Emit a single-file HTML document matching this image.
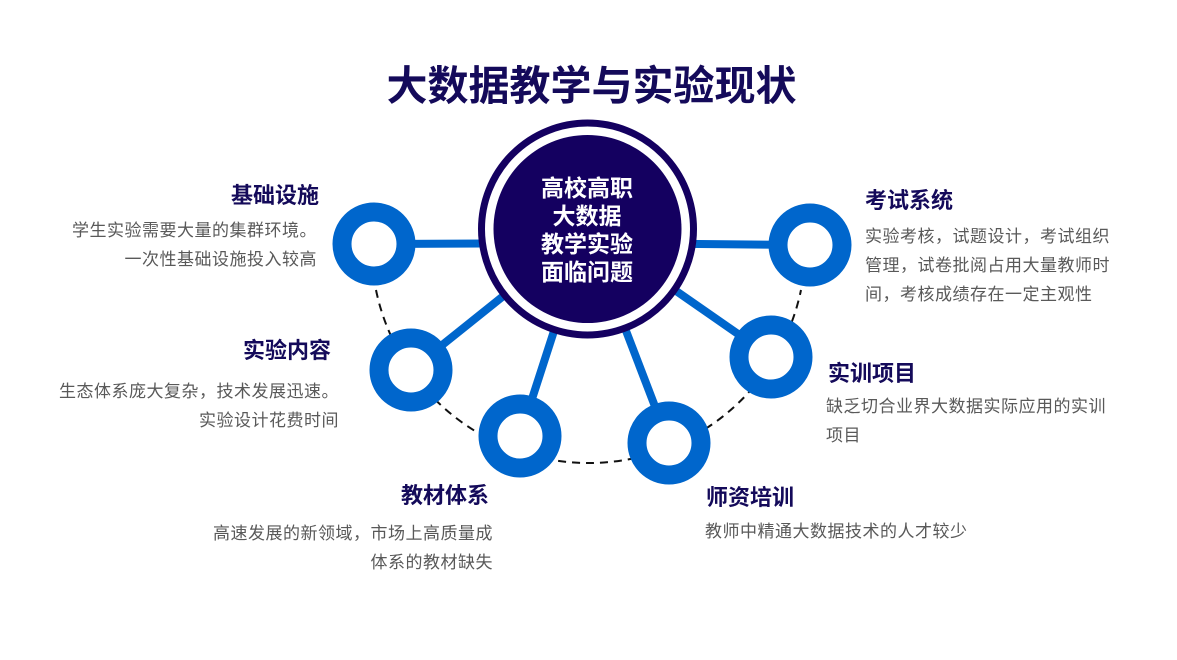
<!DOCTYPE html>
<html><head><meta charset="utf-8"><style>
body{margin:0;width:1177px;height:660px;background:#fff;position:relative;overflow:hidden;font-family:"Liberation Sans","Noto Sans CJK SC",sans-serif}
.t{position:absolute;white-space:nowrap}
.h{font-weight:bold;font-size:22px;color:#140a5a}
.d{font-size:17px;letter-spacing:0.5px;color:#595959;line-height:29px}
</style></head><body>
<svg width="1177" height="660" style="position:absolute;left:0;top:0">
<path d="M376 290 A217 217 0 0 0 801 290" fill="none" stroke="#111" stroke-width="2" stroke-dasharray="8,6"/>
<g stroke="#0066cc" stroke-width="8">
<line x1="587" y1="243" x2="374" y2="244"/>
<line x1="587" y1="243" x2="810" y2="245"/>
<line x1="587" y1="229" x2="411" y2="370"/>
<line x1="587" y1="229" x2="520" y2="436"/>
<line x1="587" y1="229" x2="669" y2="443"/>
<line x1="587" y1="229" x2="771" y2="357"/>
</g>
<g fill="#fff" stroke="#0066cc" stroke-width="19">
<circle cx="374" cy="244" r="32"/>
<circle cx="810" cy="245" r="32"/>
<circle cx="411" cy="370" r="32"/>
<circle cx="520" cy="436" r="32"/>
<circle cx="669" cy="443" r="32"/>
<circle cx="771" cy="357" r="32"/>
</g>
<circle cx="587.5" cy="229" r="106" fill="#fff" stroke="#140060" stroke-width="7"/>
<circle cx="587.5" cy="229" r="94" fill="#140060"/>
</svg>
<div class="t" style="left:0;width:1183px;text-align:center;top:52px;font-size:41px;font-weight:bold;color:#140a5a">大数据教学与实验现状</div>
<div class="t" style="left:487px;width:200px;text-align:center;top:174px;font-size:23px;font-weight:bold;color:#fff;line-height:28px">高校高职<br>大数据<br>教学实验<br>面临问题</div>
<div class="t h" style="right:858px;top:178px">基础设施</div>
<div class="t d" style="right:860px;top:216px;text-align:right">学生实验需要大量的集群环境。<br>一次性基础设施投入较高</div>
<div class="t h" style="left:865px;top:183px">考试系统</div>
<div class="t d" style="left:865px;top:222px">实验考核，试题设计，考试组织<br>管理，试卷批阅占用大量教师时<br>间，考核成绩存在一定主观性</div>
<div class="t h" style="right:846px;top:333px">实验内容</div>
<div class="t d" style="right:838px;top:377px;text-align:right">生态体系庞大复杂，技术发展迅速。<br>实验设计花费时间</div>
<div class="t h" style="left:828px;top:356px">实训项目</div>
<div class="t d" style="left:826px;top:392px">缺乏切合业界大数据实际应用的实训<br>项目</div>
<div class="t h" style="right:688px;top:478px">教材体系</div>
<div class="t d" style="right:684px;top:519px;text-align:right">高速发展的新领域，市场上高质量成<br>体系的教材缺失</div>
<div class="t h" style="left:706px;top:480px">师资培训</div>
<div class="t d" style="left:705px;top:517px">教师中精通大数据技术的人才较少</div>
</body></html>
